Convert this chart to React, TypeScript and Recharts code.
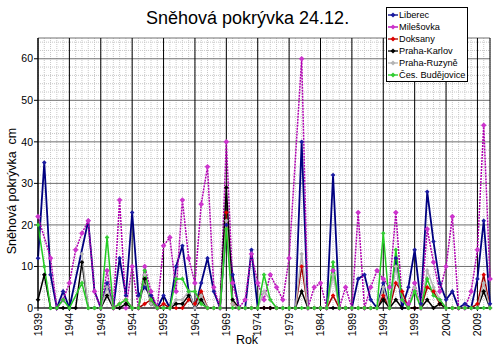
import { LineChart, Line, XAxis, YAxis, CartesianGrid } from "recharts";

// Snow cover on 24 Dec, cm, 1939-2011
const years = [
  1939, 1940, 1941, 1942, 1943, 1944, 1945, 1946, 1947, 1948, 1949, 1950, 1951, 1952, 1953, 1954, 1955, 1956, 1957, 1958,
  1959, 1960, 1961, 1962, 1963, 1964, 1965, 1966, 1967, 1968, 1969, 1970, 1971, 1972, 1973, 1974, 1975, 1976, 1977, 1978,
  1979, 1980, 1981, 1982, 1983, 1984, 1985, 1986, 1987, 1988, 1989, 1990, 1991, 1992, 1993, 1994, 1995, 1996, 1997, 1998,
  1999, 2000, 2001, 2002, 2003, 2004, 2005, 2006, 2007, 2008, 2009, 2010, 2011,
];

const liberec = [
  12, 35, 8, 0, 4, 0, null, null, 21, 4, 0, 6, 0, 12, 3, 23, 3, 5, 3, 0,
  3, 0, 10, 15, 4, 0, 6, 12, 4, 0, 20, 8, 0, 0, 14, 0, 0, 0, 0, 0,
  0, 0, 40, 0, 0, 0, 0, 32, 0, 0, 0, 7, 8, 2, 0, 6, 0, 12, 0, 5,
  14, 1, 28, 16, 6, 2, 4, 0, 1, 0, 7, 21, 1,
];
const milesovka = [
  22, null, 12, 0, 2, 6, 14, 18, 21, 4, 0, 9, 0, 26, 0, 10, 0, 10, 4, 0,
  15, 17, 4, 26, 12, 6, 25, 34, 5, 0, 40, 6, 0, 2, 13, 6, 2, 8, 5, 2,
  12, null, 60, 0, 5, 6, 0, 9, 0, 5, 0, 23, 0, 5, 9, 7, 5, 23, 2, 1,
  6, 0, 19, 11, 4, 10, 22, 0, 0, 4, 14, 44, 7,
];
const doksany = [
  null, null, null, null, null, null, null, null, null, null, null, null, 0, 1, 2, 0, 0, 1, 2, 0,
  1, 0, 0, 0, 2, 1, 4, 0, 0, 0, 23, 1, 0, 0, 0, 0, 0, 0, 0, 0,
  0, 0, 10, 0, 0, 0, 0, 3, 0, 0, 0, 0, 0, 0, 0, 3, 0, 6, 4, 0,
  0, 0, 5, 4, 1, 0, 0, 0, 0, 0, 1, 8, 0,
];
const karlov = [
  2, 8, 0, 0, 0, 0, 0, 11, 0, 0, 0, 3, 0, 0, 1, 0, 0, 7, 1, 0,
  0, 0, 1, 1, 3, 0, 2, 0, 0, 0, 29, 2, 0, 0, 0, 0, 0, 0, 0, 0,
  0, 0, 4, 0, 0, 0, 0, 0, 0, 0, 0, 0, 0, 0, 0, 2, 0, 2, 0, 0,
  0, 0, 2, 0, 1, 0, 0, 0, 0, 0, 0, 4, 0,
];
const ruzyne = [
  null, null, null, null, null, null, null, 13, 0, 0, 0, 5, 0, 1, 2, 0, 0, 8, 1, 0,
  0, 0, 2, 2, 4, 0, 3, 0, 0, 0, 21, 1, 0, 0, 0, 0, 4, 2, 0, 0,
  0, 0, 13, 0, 0, 0, 0, 8, 0, 0, 0, 0, 0, 0, 0, 5, 0, 10, 2, 0,
  5, 0, 9, 5, 2, 0, 0, 0, 0, 0, 0, 6, 0,
];
const budejovice = [
  20, 10, 0, 0, 2, 0, null, 6, 0, 0, 0, 17, 0, 1, 2, 0, 0, 9, 2, 0,
  0, 0, 7, 7, 4, 4, 1, 0, 0, 0, 19, 0, 0, 0, 0, 0, 8, 2, 0, 0,
  0, 0, 0, 0, 0, 0, 0, 11, 0, 0, 0, 0, 0, 0, 0, 18, 0, 14, 2, 0,
  4, 0, 7, 3, 2, 0, 0, 0, 0, 0, 0, 0, 0,
];

const xTicks = [1939, 1944, 1949, 1954, 1959, 1964, 1969, 1974, 1979, 1984, 1989, 1994, 1999, 2004, 2009];
const yTicks = [0, 10, 20, 30, 40, 50, 60];
const yMinor = [2, 4, 6, 8, 12, 14, 16, 18, 22, 24, 26, 28, 32, 34, 36, 38, 42, 44, 46, 48, 52, 54, 56, 58, 62, 64];

const series = [
  { key: "liberec", name: "Liberec", values: liberec, line: "#000080", dot: "#1a1aa0", dash: undefined },
  { key: "milesovka", name: "Milešovka", values: milesovka, line: "#b000b0", dot: "#cc33cc", dash: "2 1" },
  { key: "doksany", name: "Doksany", values: doksany, line: "#a00000", dot: "#e00000", dash: undefined },
  { key: "karlov", name: "Praha-Karlov", values: karlov, line: "#000000", dot: "#000000", dash: undefined },
  { key: "ruzyne", name: "Praha-Ruzyně", values: ruzyne, line: "#b4b4b4", dot: "#b4b4b4", dash: undefined },
  { key: "budejovice", name: "Čes. Budějovice", values: budejovice, line: "#22cc22", dot: "#33cc33", dash: undefined },
];

const data = years.map((year, i) => {
  const row: any = { year };
  series.forEach((s) => (row[s.key] = s.values[i]));
  return row;
});

const FONT = "Arial, 'Liberation Sans', sans-serif";

const diamond = (color: string, r: number) => (props: any) => {
  const { cx, cy, index } = props;
  if (cx == null || cy == null || isNaN(cy)) return <g key={index} />;
  return <path key={index} d={`M${cx},${cy - r}L${cx + r},${cy}L${cx},${cy + r}L${cx - r},${cy}Z`} fill={color} />;
};

const YearTick = (props: any) => {
  const { x, y, payload } = props;
  return (
    <text x={x} y={y} transform={`rotate(-90, ${x}, ${y})`} textAnchor="end" dy="0.36em" fontSize={10.5} fontFamily={FONT} fill="#000">
      {payload.value}
    </text>
  );
};

// minor grid positions come from the axis scales
const scaleFn = (axis: any) => {
  const s = axis && axis.scale;
  if (typeof s === "function") return (v: number) => s(v);
  if (s && typeof s.map === "function") return (v: number) => s.map(v);
  return null;
};
const minorX = ({ xAxis }: any) => {
  const f = scaleFn(xAxis);
  return f ? years.map((v) => f(v)).filter((p) => typeof p === "number" && !isNaN(p)) : [];
};
const minorY = ({ yAxis }: any) => {
  const f = scaleFn(yAxis);
  return f ? yMinor.map((v) => f(v)).filter((p) => typeof p === "number" && !isNaN(p)) : [];
};

function LegendBox() {
  return (
    <div
      style={{
        position: "absolute", left: 386, top: 7, width: 82, height: 75, border: "1px solid #000", background: "#fff",
        fontFamily: FONT, fontSize: 9.2, lineHeight: "12px", paddingTop: 1, boxSizing: "border-box",
      }}
    >
      {series.map((s) => (
        <div key={s.key} style={{ display: "flex", alignItems: "center", height: 12, whiteSpace: "nowrap" }}>
          <svg width={10} height={8} style={{ marginLeft: 1, marginRight: 1 }}>
            <line x1={0} y1={4} x2={10} y2={4} stroke={s.line} strokeWidth={1.3} />
            <path d="M5,1.5L7.5,4L5,6.5L2.5,4Z" fill={s.dot} />
          </svg>
          <span>{s.name}</span>
        </div>
      ))}
    </div>
  );
}

export default function App() {
  return (
    <div style={{ position: "absolute", left: 0, top: 0, width: 498, height: 352, background: "#fff", fontFamily: FONT }}>
      <LineChart width={498} height={352} data={data} margin={{ top: 38, right: 8, bottom: 0, left: 0 }}>
        <CartesianGrid
          stroke="#c8c8c8"
          strokeDasharray="1 1"
          verticalCoordinatesGenerator={minorX}
          horizontalCoordinatesGenerator={minorY}
        />
        <CartesianGrid vertical={false} stroke="#707070" />
        <CartesianGrid horizontal={false} stroke="#000000" />
        <XAxis
          dataKey="year"
          type="number"
          domain={[1939, 2011]}
          ticks={xTicks}
          interval={0}
          height={44}
          tick={<YearTick />}
          tickSize={3}
          tickMargin={2}
          stroke="#000"
        />
        <YAxis
          domain={[0, 65]}
          ticks={yTicks}
          interval={0}
          width={38}
          tickSize={4}
          tickMargin={1}
          stroke="#000"
          tick={{ fontSize: 10.5, fontFamily: FONT, fill: "#000" }}
        />
        {series.map((s) => (
          <Line
            key={s.key}
            dataKey={s.key}
            name={s.name}
            type="linear"
            stroke={s.line}
            strokeWidth={s.key === "liberec" ? 1.8 : 1.5}
            strokeDasharray={s.dash}
            dot={diamond(s.dot, s.key === "milesovka" ? 2.8 : 2.3)}
            activeDot={false}
            connectNulls
            isAnimationActive={false}
          />
        ))}
      </LineChart>
      <div style={{ position: "absolute", left: 146, top: 7, width: 200, textAlign: "center", fontSize: 18, lineHeight: "22px", whiteSpace: "nowrap" }}>
        Sněhová pokrývka 24.12.
      </div>
      <div
        style={{
          position: "absolute", left: 12, top: 191, transform: "translate(-50%, -50%) rotate(-90deg)",
          fontSize: 12.5, whiteSpace: "pre",
        }}
      >
        Sněhová pokrývka  cm
      </div>
      <div style={{ position: "absolute", left: 247, top: 333, transform: "translateX(-50%)", fontSize: 12.5 }}>Rok</div>
      <LegendBox />
    </div>
  );
}
